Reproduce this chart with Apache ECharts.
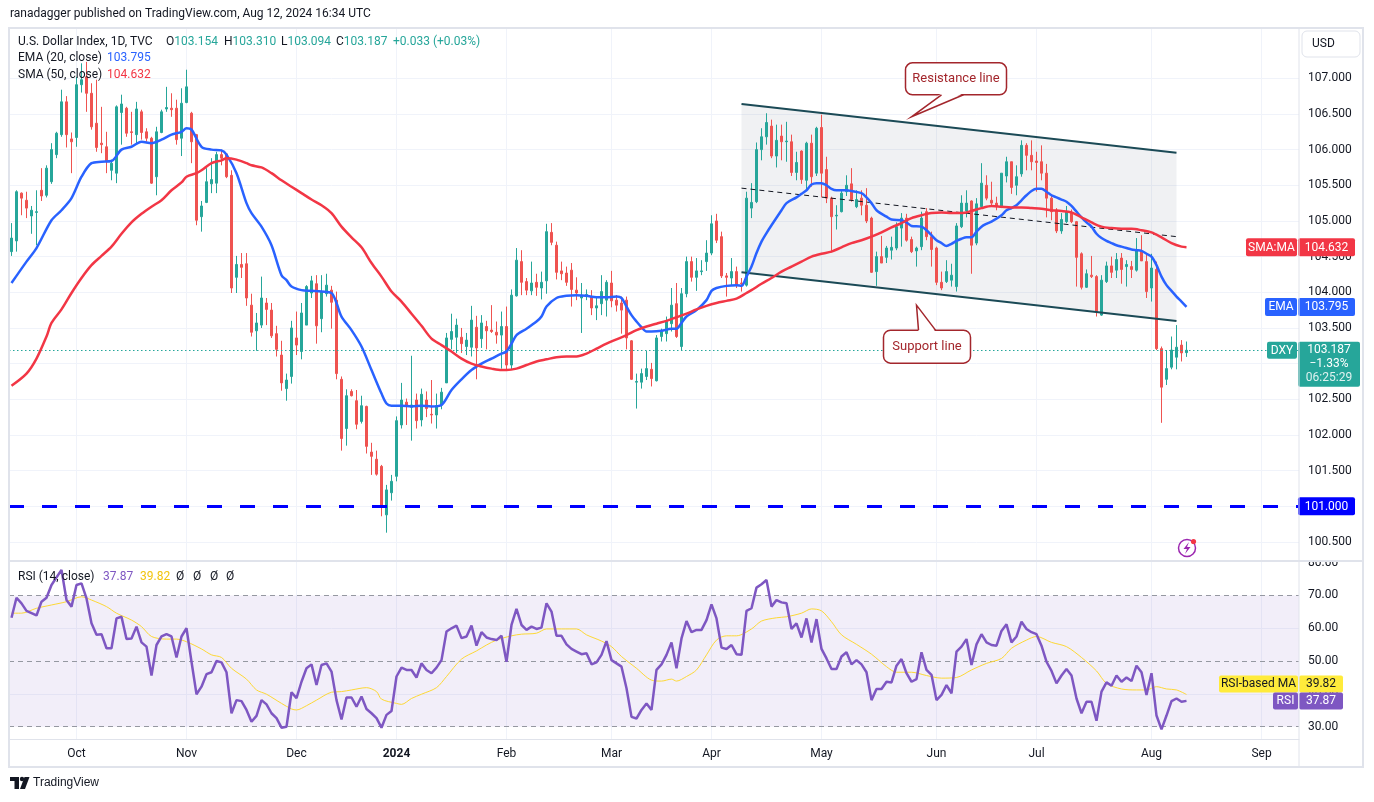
<!DOCTYPE html>
<html>
<head>
<meta charset="utf-8">
<title>U.S. Dollar Index 1D</title>
<script src="https://cdn.jsdelivr.net/npm/echarts@6/dist/echarts.min.js"></script>
<style>
  html, body { margin: 0; padding: 0; background: #fff; }
  #chart { width: 1374px; height: 802px; }
</style>
</head>
<body>
<div id="chart"></div>
<script>
"use strict";

var TEXT = '#131722';
var FONT = 'Roboto, "Noto Sans", "DejaVu Sans", sans-serif';
var UP = '#26a69a', DOWN = '#ef5350';
var EMA_COLOR = '#2962ff', SMA_COLOR = '#f23645';
var RSI_COLOR = '#7e57c2', RSI_MA_COLOR = '#fdd835';

/* calendar: daily bars, weekdays only */
var startDate = '2023-09-13';
var holidays = ['2023-12-25', '2024-01-01', '2024-03-29'];
var barSlots = 258;          // 236 traded days + empty future space
var monthNames = ['Jan','Feb','Mar','Apr','May','Jun','Jul','Aug','Sep','Oct','Nov','Dec'];

/* candles: [open, close, low, high] */
var ohlc = [
  [104.57,104.76,104.51,104.97],[104.72,105.41,104.57,105.43],[105.39,105.32,105.08,105.40],[105.29,105.18,105.04,105.41],
  [105.07,105.15,104.82,105.21],[105.12,105.13,104.66,105.43],[105.43,105.35,105.28,105.74],[105.36,105.74,105.33,105.78],
  [105.55,106.00,105.52,106.09],[105.93,106.23,105.88,106.25],[106.21,106.67,106.18,106.84],[106.67,106.21,106.03,106.75],
  [106.15,106.11,105.67,106.24],[106.17,106.91,106.04,107.02],[106.91,106.98,106.80,107.21],[107.02,106.79,106.53,107.23],
  [106.79,106.32,106.28,106.93],[106.37,106.03,105.97,106.98],[106.09,106.07,105.95,106.60],[106.04,105.83,105.67,106.25],
  [105.71,105.81,105.57,105.86],[105.67,106.60,105.53,106.62],[106.52,106.64,106.07,106.77],[106.58,106.23,106.18,106.60],
  [106.25,106.24,106.07,106.53],[106.21,106.57,106.07,106.67],[106.53,106.24,106.14,106.56],[106.25,106.16,106.11,106.30],
  [106.16,105.53,105.52,106.18],[105.62,106.25,105.36,106.32],[106.24,106.53,106.23,106.56],[106.57,106.59,106.53,106.88],
  [106.58,106.56,106.46,106.79],[106.58,106.14,106.07,106.70],[106.16,106.65,105.91,106.86],[106.66,106.88,106.65,107.12],
  [106.51,106.11,105.81,106.53],[106.21,105.01,104.94,106.22],[105.06,105.21,104.85,105.28],[105.26,105.55,105.25,105.74],
  [105.52,105.58,105.39,105.88],[105.53,105.93,105.39,105.97],[105.93,105.88,105.78,106.00],[105.94,105.62,105.60,105.95],
  [105.64,104.06,103.99,105.71],[104.21,104.39,103.99,104.51],[104.39,104.35,104.20,104.55],[104.40,103.92,103.81,104.55],
  [103.82,103.44,103.38,103.98],[103.46,103.57,103.18,103.71],[103.54,103.92,103.50,104.22],[103.85,103.76,103.54,103.92],
  [103.75,103.39,103.36,103.85],[103.42,103.20,103.10,103.53],[103.12,102.73,102.62,103.32],[102.65,102.77,102.48,102.86],
  [102.82,103.50,102.72,103.60],[103.36,103.26,103.12,103.73],[103.17,103.71,103.06,103.85],[103.54,104.08,103.54,104.10],
  [103.99,104.16,103.92,104.23],[104.12,103.53,103.28,104.24],[103.63,104.01,103.44,104.24],[103.98,104.10,103.94,104.26],
  [104.03,103.86,103.49,104.09],[103.89,102.86,102.78,104.01],[102.78,101.95,101.78,102.82],[102.09,102.55,101.85,102.64],
  [102.61,102.55,102.54,102.64],[102.48,102.15,102.08,102.63],[102.19,102.41,102.16,102.55],[102.40,101.84,101.74,102.41],
  [101.76,101.70,101.44,101.89],[101.66,101.45,101.43,101.78],[101.56,100.99,100.86,101.58],[100.88,101.23,100.63,101.30],
  [101.19,101.35,101.08,101.44],[101.42,102.20,101.35,102.26],[102.14,102.49,102.09,102.73],[102.46,102.41,102.14,102.51],
  [102.39,102.42,101.92,103.11],[102.49,102.20,102.09,102.58],[102.21,102.57,102.12,102.65],[102.49,102.37,102.25,102.61],
  [102.29,102.28,102.16,102.77],[102.28,102.41,102.09,102.58],[102.42,102.60,102.36,102.66],[102.73,103.36,102.73,103.43],
  [103.34,103.45,103.20,103.70],[103.37,103.54,103.15,103.63],[103.37,103.28,103.15,103.50],[103.24,103.33,103.12,103.43],
  [103.23,103.61,103.10,103.81],[103.51,103.22,102.78,103.67],[103.35,103.57,103.22,103.68],[103.52,103.46,103.20,103.60],
  [103.47,103.45,103.43,103.82],[103.44,103.40,103.28,103.59],[103.40,103.52,102.93,103.73],[103.52,102.98,102.91,103.80],
  [102.98,103.96,102.91,104.04],[103.95,104.45,103.94,104.62],[104.43,104.14,103.96,104.59],[104.15,104.03,103.96,104.20],
  [104.02,104.13,103.96,104.43],[104.14,104.07,103.95,104.26],[104.06,104.14,103.90,104.29],[104.16,104.85,103.98,104.96],
  [104.84,104.70,104.66,104.97],[104.66,104.28,104.18,104.71],[104.30,104.26,104.17,104.43],[104.27,104.14,104.09,104.36],
  [104.31,104.04,103.80,104.41],[104.03,103.99,103.89,104.21],[103.92,103.96,103.43,104.13],[103.94,103.97,103.89,104.04],
  [103.94,103.78,103.68,104.03],[103.78,103.81,103.61,103.94],[103.84,104.01,103.68,104.24],[103.89,104.14,103.66,104.17],
  [104.13,103.88,103.79,104.30],[103.89,103.82,103.73,103.96],[103.85,103.75,103.42,103.94],[103.89,103.36,103.20,103.94],
  [103.32,102.78,102.77,103.33],[102.74,102.75,102.37,102.86],[102.74,102.86,102.65,102.93],[102.82,102.93,102.77,103.18],
  [102.92,102.79,102.68,103.01],[102.76,103.36,102.75,103.40],[103.38,103.45,103.31,103.49],[103.42,103.59,103.31,103.66],
  [103.56,103.82,103.45,104.06],[103.84,103.38,103.36,104.13],[103.24,103.98,103.18,104.06],[103.98,104.43,103.93,104.50],
  [104.43,104.21,104.15,104.50],[104.21,104.30,104.02,104.48],[104.29,104.30,104.24,104.45],[104.43,104.55,104.30,104.73],
  [104.55,104.96,104.52,105.08],[105.00,104.73,104.69,105.10],[104.78,104.23,104.20,104.85],[104.23,104.21,103.94,104.27],
  [104.20,104.29,104.10,104.48],[104.29,104.10,104.06,104.36],[104.13,104.12,104.01,104.20],[104.10,105.32,104.08,105.41],
  [105.18,105.26,105.04,105.53],[105.27,106.00,105.25,106.10],[106.00,106.18,105.85,106.30],[106.18,106.38,106.07,106.51],
  [106.33,105.91,105.88,106.42],[105.91,106.13,105.75,106.35],[106.19,106.11,105.85,106.35],[106.11,106.12,105.83,106.39],
  [106.11,105.68,105.63,106.21],[105.68,105.82,105.57,105.97],[105.98,105.58,105.52,105.99],[105.57,106.09,105.43,106.11],
  [106.09,105.62,105.48,106.21],[105.67,106.30,105.63,106.32],[106.31,105.67,105.33,106.49],[105.72,105.32,105.25,105.90],
  [105.32,105.06,104.56,105.34],[105.07,105.08,104.88,105.22],[105.13,105.39,105.12,105.43],[105.41,105.50,105.35,105.64],
  [105.52,105.30,105.27,105.74],[105.20,105.30,105.18,105.43],[105.32,105.22,105.08,105.43],[105.22,105.00,104.97,105.46],
  [105.04,104.28,104.27,105.06],[104.29,104.50,104.09,104.57],[104.50,104.41,104.41,104.79],[104.49,104.62,104.41,104.65],
  [104.59,104.63,104.46,104.78],[104.62,104.92,104.59,104.98],[104.90,105.04,104.64,105.11],[105.04,104.73,104.71,105.10],
  [104.74,104.57,104.55,104.78],[104.58,104.62,104.36,104.64],[104.64,105.04,104.59,105.13],[105.13,104.78,104.73,105.18],
  [104.78,104.60,104.36,104.85],[104.62,104.14,104.10,104.64],[104.14,104.06,104.03,104.29],[104.15,104.29,104.13,104.45],
  [104.17,104.24,104.08,104.40],[104.08,104.93,104.01,104.97],[104.92,105.25,104.90,105.36],[105.14,105.25,105.05,105.43],
  [105.28,104.66,104.26,105.29],[104.69,105.24,104.66,105.32],[105.20,105.53,105.18,105.81],[105.50,105.32,105.29,105.64],
  [105.29,105.25,105.22,105.55],[105.25,105.21,105.15,105.34],[105.21,105.67,105.18,105.67],[105.63,105.83,105.54,105.90],
  [105.83,105.47,105.38,105.83],[105.50,105.62,105.36,105.78],[105.66,106.06,105.62,106.13],[106.06,105.92,105.71,106.09],
  [105.92,105.83,105.71,106.13],[105.84,105.82,105.41,105.97],[105.83,105.67,105.57,106.06],[105.67,105.32,105.05,105.80],
  [105.32,105.13,105.01,105.36],[105.15,104.86,104.83,105.18],[104.86,105.02,104.82,105.11],[104.99,105.13,104.97,105.21],
  [105.12,104.99,104.97,105.16],[104.99,104.49,104.08,105.00],[104.54,104.07,104.04,104.56],[104.07,104.26,104.06,104.32],
  [104.24,104.22,104.20,104.51],[104.22,103.73,103.66,104.24],[103.68,104.17,103.67,104.24],[104.15,104.37,104.13,104.43],
  [104.37,104.28,104.20,104.50],[104.31,104.46,104.20,104.55],[104.48,104.32,104.12,104.55],[104.36,104.39,104.08,104.45],
  [104.36,104.32,104.20,104.44],[104.31,104.59,104.29,104.76],[104.58,104.44,104.44,104.80],[104.43,104.01,103.92,104.54],
  [104.06,104.34,103.87,104.54],[104.32,103.21,103.19,104.43],[103.21,102.67,102.17,103.24],[102.78,102.93,102.70,103.19],
  [102.95,103.19,102.92,103.38],[103.09,103.23,102.92,103.54],[103.26,103.15,103.03,103.33],[103.154,103.187,103.094,103.310]
];

/* EMA(20): [bar index, value] */
var ema20 = [
  [0,104.13],[3,104.43],[5,104.62],[8,105.01],[10,105.15],[12,105.32],[14,105.62],[16,105.81],[18,105.83],[20,105.84],
  [22,106.00],[24,106.04],[26,106.11],[28,106.09],[30,106.14],[32,106.21],[34,106.25],[35,106.30],[36,106.28],[38,106.04],
  [40,106.00],[42,105.99],[43,105.93],[45,105.67],[47,105.25],[48,105.11],[50,104.92],[52,104.66],[54,104.24],[55,104.17],
  [56,104.08],[58,104.03],[60,104.02],[62,104.01],[64,103.99],[65,103.85],[66,103.66],[68,103.47],[70,103.24],[72,102.91],
  [74,102.58],[75,102.44],[76,102.41],[78,102.41],[80,102.40],[82,102.41],[84,102.40],[86,102.42],[88,102.63],[90,102.78],
  [92,102.91],[94,103.00],[96,103.07],[98,103.14],[99,103.17],[100,103.28],[101,103.40],[103,103.49],[105,103.59],[106,103.66],
  [107,103.80],[109,103.92],[111,103.95],[113,103.96],[115,103.95],[117,103.93],[119,103.93],[121,103.94],[122,103.92],[123,103.80],
  [124,103.68],[125,103.59],[126,103.51],[127,103.45],[128,103.45],[130,103.46],[132,103.49],[133,103.49],[134,103.57],[135,103.66],
  [137,103.75],[139,103.89],[140,104.02],[141,104.06],[143,104.09],[145,104.10],[146,104.09],[147,104.22],[148,104.36],[149,104.55],
  [150,104.71],[151,104.83],[152,104.94],[154,105.15],[155,105.25],[157,105.33],[158,105.38],[159,105.43],[160,105.51],[161,105.53],
  [162,105.53],[163,105.50],[164,105.45],[165,105.43],[167,105.43],[168,105.42],[170,105.39],[171,105.33],[172,105.25],[173,105.15],
  [175,105.06],[176,105.02],[178,105.01],[179,104.98],[180,104.93],[182,104.92],[183,104.87],[184,104.80],[185,104.73],[186,104.69],
  [187,104.65],[188,104.68],[189,104.72],[190,104.75],[191,104.77],[192,104.77],[193,104.85],[194,104.92],[195,104.96],[196,104.99],
  [198,105.08],[199,105.15],[200,105.18],[201,105.22],[202,105.29],[203,105.36],[204,105.42],[205,105.45],[206,105.45],[207,105.41],
  [208,105.36],[209,105.33],[210,105.30],[211,105.27],[212,105.21],[213,105.13],[214,105.05],[215,104.98],[216,104.92],[217,104.82],
  [218,104.76],[219,104.72],[220,104.69],[221,104.66],[222,104.64],[223,104.62],[224,104.60],[225,104.59],[226,104.58],[227,104.54],
  [228,104.50],[229,104.38],[230,104.22],[231,104.10],[232,104.02],[233,103.94],[234,103.87],[235,103.795]
];

/* SMA(50): [bar index, value] */
var sma50 = [
  [0,102.69],[3,102.86],[5,103.07],[7,103.38],[8,103.57],[10,103.76],[12,103.99],[14,104.20],[16,104.38],[18,104.51],
  [20,104.64],[22,104.82],[24,104.98],[26,105.10],[28,105.20],[30,105.29],[32,105.43],[34,105.54],[35,105.62],[37,105.67],
  [38,105.71],[40,105.81],[42,105.85],[43,105.88],[45,105.86],[47,105.81],[48,105.78],[50,105.75],[52,105.67],[54,105.57],
  [56,105.48],[58,105.39],[60,105.30],[62,105.22],[64,105.11],[66,104.92],[68,104.77],[70,104.63],[72,104.41],[74,104.22],
  [76,104.01],[78,103.87],[80,103.70],[82,103.53],[84,103.35],[86,103.26],[88,103.17],[90,103.07],[92,103.00],[94,102.96],
  [96,102.93],[98,102.91],[99,102.91],[101,102.93],[103,102.98],[105,103.03],[107,103.06],[109,103.09],[111,103.10],[113,103.10],
  [115,103.14],[117,103.21],[119,103.28],[121,103.34],[123,103.40],[125,103.47],[127,103.52],[129,103.56],[131,103.60],[133,103.65],
  [135,103.70],[137,103.76],[139,103.81],[141,103.85],[143,103.88],[145,103.91],[147,103.99],[148,104.03],[150,104.12],[152,104.20],
  [154,104.29],[156,104.36],[158,104.43],[160,104.50],[162,104.54],[164,104.57],[166,104.63],[168,104.69],[170,104.73],[172,104.78],
  [174,104.84],[176,104.91],[178,104.97],[180,105.04],[182,105.08],[184,105.11],[186,105.12],[188,105.11],[190,105.11],[192,105.14],
  [194,105.18],[196,105.21],[198,105.20],[200,105.19],[202,105.19],[204,105.18],[206,105.17],[208,105.15],[210,105.14],[212,105.12],
  [214,105.05],[216,104.98],[218,104.92],[220,104.90],[222,104.89],[224,104.89],[226,104.87],[228,104.84],[230,104.77],[232,104.69],
  [234,104.64],[235,104.632]
];

/* RSI(14): [bar index, value] */
var rsi14 = [
  [0,63.2],[1,69.3],[2,67.6],[3,65.3],[5,63.9],[6,68.1],[7,69.3],[8,73.2],[10,77.8],[11,68.6],[12,66.6],[13,73.2],[14,73.7],
  [15,69.1],[16,61.5],[17,58.0],[18,58.2],[19,53.9],[20,53.9],[21,63.0],[22,63.5],[23,56.7],[24,56.9],[25,60.5],[26,55.7],
  [27,54.4],[28,45.6],[29,54.9],[30,57.5],[31,58.2],[32,57.5],[33,51.1],[34,57.5],[35,60.0],[36,49.8],[37,39.9],[38,42.2],
  [39,46.0],[40,46.6],[41,50.0],[42,49.6],[43,46.6],[44,34.1],[45,38.1],[46,37.8],[47,35.1],[48,31.5],[49,33.3],[50,38.1],
  [51,36.8],[52,34.1],[53,32.6],[54,29.7],[55,30.0],[56,40.5],[57,38.7],[58,43.7],[59,47.8],[60,49.0],[61,42.7],[62,48.8],
  [63,49.3],[64,46.8],[65,38.1],[66,32.2],[67,38.9],[68,38.9],[69,36.1],[70,39.2],[71,35.4],[72,34.1],[73,32.6],[74,29.7],
  [75,33.6],[76,34.8],[77,45.3],[78,48.0],[79,47.3],[80,47.3],[81,45.0],[82,49.3],[83,47.3],[84,46.3],[85,48.0],[86,50.3],
  [87,59.0],[88,60.0],[89,60.8],[90,57.0],[91,57.5],[92,60.8],[93,54.7],[94,58.8],[95,57.2],[96,56.7],[97,56.4],[98,57.7],
  [99,49.8],[100,61.0],[101,65.9],[102,61.0],[103,59.5],[104,60.5],[105,59.8],[106,60.2],[107,67.6],[108,65.1],[109,57.7],
  [110,57.7],[111,55.1],[112,53.7],[113,52.9],[114,52.1],[115,52.4],[116,49.0],[117,49.6],[118,51.9],[119,56.1],[120,50.3],
  [122,48.3],[123,41.7],[124,33.0],[125,32.5],[126,35.1],[127,37.1],[128,35.1],[129,47.3],[130,49.0],[131,51.9],[132,55.7],
  [133,47.8],[134,56.9],[135,62.2],[136,58.8],[137,59.5],[138,59.5],[139,62.5],[140,67.3],[141,63.0],[142,54.1],[143,53.7],
  [144,54.9],[145,52.1],[146,51.9],[147,65.3],[148,66.1],[149,72.4],[150,73.4],[151,74.7],[152,66.6],[153,68.6],[154,67.9],
  [155,67.6],[156,59.8],[157,61.5],[158,57.2],[159,63.0],[160,55.7],[161,62.8],[162,53.7],[163,50.8],[164,47.6],[165,47.6],
  [166,51.4],[167,52.7],[168,49.0],[169,50.3],[170,49.0],[171,46.6],[172,38.1],[173,41.5],[174,41.5],[175,43.7],[176,43.5],
  [177,48.6],[178,50.6],[179,46.3],[180,43.7],[181,44.5],[182,52.7],[183,47.3],[184,45.8],[185,38.1],[186,39.7],[187,42.7],
  [188,40.2],[189,52.9],[190,54.4],[191,56.7],[192,48.8],[193,55.1],[194,58.2],[195,55.7],[196,54.9],[197,54.7],[198,59.2],
  [199,61.2],[200,55.7],[201,57.5],[202,62.0],[203,59.8],[204,58.8],[205,58.2],[206,54.7],[207,49.8],[208,47.0],[209,43.2],
  [210,45.6],[211,47.6],[212,45.6],[213,38.6],[214,34.1],[215,37.6],[216,37.6],[217,31.8],[218,40.7],[219,43.5],[220,42.5],
  [221,45.6],[222,43.7],[223,45.0],[224,43.9],[225,48.6],[226,46.6],[227,39.7],[228,46.3],[229,33.4],[230,29.2],[231,33.4],
  [232,37.8],[233,38.6],[234,37.6],[235,37.87]
];

/* RSI-based MA: [bar index, value] */
var rsiMa = [
  [0,64.6],[2,64.6],[5,66.1],[8,67.1],[11,68.1],[14,69.6],[16,68.6],[19,66.6],[21,64.6],[24,62.5],[26,60.5],[28,57.5],
  [31,56.7],[33,56.7],[35,55.9],[38,53.7],[40,51.9],[42,51.1],[44,47.8],[47,44.5],[49,41.2],[51,39.9],[54,37.1],[56,35.4],
  [57,35.1],[59,36.4],[61,38.1],[64,40.5],[66,40.7],[68,41.2],[71,41.9],[73,40.7],[74,38.4],[77,37.1],[78,36.8],[80,38.6],
  [82,39.9],[85,41.9],[87,45.3],[90,50.6],[93,53.1],[95,54.9],[97,56.4],[100,57.7],[102,58.2],[105,58.5],[107,59.8],[110,59.8],
  [113,59.8],[115,58.0],[118,56.1],[120,54.4],[122,51.4],[125,47.8],[128,44.2],[130,43.9],[132,44.5],[133,43.9],[135,45.3],
  [137,47.3],[139,51.9],[141,56.4],[143,57.7],[145,57.7],[148,59.8],[150,62.2],[153,63.2],[155,63.5],[158,64.6],[160,65.9],
  [162,65.3],[164,62.0],[166,58.0],[169,55.1],[172,52.1],[175,48.3],[177,46.6],[180,46.6],[183,45.6],[186,44.8],[189,45.0],
  [192,47.3],[195,49.3],[198,50.8],[200,53.9],[203,56.4],[205,57.5],[208,55.7],[211,54.4],[214,51.1],[217,47.0],[219,43.2],
  [222,41.5],[225,41.2],[227,41.2],[229,42.2],[231,41.5],[233,41.2],[235,39.82]
];

/* axis ticks */
var priceTicks = [100.5, 101, 101.5, 102, 102.5, 103, 103.5, 104, 104.5, 105, 105.5, 106, 106.5, 107];
var rsiLabelTicks = [30, 40, 50, 60, 70, 80];
var rsiGridTicks = [40, 60];
var rsiBands = [70, 50, 30];

/* drawings: [bar index, price] */
var supportLevel = 101;
var channelUpper = [[146, 106.64], [233, 105.955]];
var channelLower = [[146, 104.28], [233, 103.598]];
var channelMid = [[146, 105.46], [233, 104.78]];
var resistanceNote = { text: 'Resistance line', tip: [180, 106.46] };
var supportNote = { text: 'Support line', tip: [181, 103.82] };

/* header values */
var changeText = '+0.033 (+0.03%)';
var changePct = '\u22121.33%';
var countdown = '06:25:29';

/* ---------- build calendar ---------- */
function buildDates(start, count, skip) {
  var out = [];
  var d = new Date(start + 'T00:00:00Z');
  while (out.length < count) {
    var wd = d.getUTCDay();
    var iso = d.toISOString().slice(0, 10);
    if (wd !== 0 && wd !== 6 && skip.indexOf(iso) < 0) {
      out.push(iso);
    }
    d.setUTCDate(d.getUTCDate() + 1);
  }
  return out;
}

var dates = buildDates(startDate, barSlots, holidays);

function isMonthStart(i) {
  return i > 0 && dates[i].slice(5, 7) !== dates[i - 1].slice(5, 7);
}

function monthLabel(value) {
  var m = parseInt(value.slice(5, 7), 10) - 1;
  return m === 0 ? '{b|' + value.slice(0, 4) + '}' : monthNames[m];
}

function pairLine(a, b, style) {
  return [
    { coord: [dates[a[0]], a[1]], lineStyle: style },
    { coord: [dates[b[0]], b[1]], lineStyle: style }
  ];
}

var lastBar = ohlc[ohlc.length - 1];
var lastClose = lastBar[1];
var lastEma = ema20[ema20.length - 1][1];
var lastSma = sma50[sma50.length - 1][1];
var lastRsi = rsi14[rsi14.length - 1][1];
var lastRsiMa = rsiMa[rsiMa.length - 1][1];

var chartDom = document.getElementById('chart');
var chart = echarts.init(chartDom, null, { renderer: 'canvas' });

var channelLineStyle = { color: '#1b4a56', width: 2, type: 'solid' };

var option = {
  animation: false,
  backgroundColor: '#ffffff',
  textStyle: { fontFamily: FONT },
  grid: [
    { left: 9, width: 1290, top: 28, height: 532, outerBoundsMode: 'none' },
    { left: 9, width: 1290, top: 562, height: 177, outerBoundsMode: 'none' }
  ],
  xAxis: [
    {
      type: 'category', gridIndex: 0, data: dates, boundaryGap: true,
      axisLine: { show: false }, axisTick: { show: false }, axisLabel: { show: false },
      splitLine: {
        show: true, alignWithLabel: true,
        interval: function (i) { return isMonthStart(i); },
        lineStyle: { color: '#f0f3fa', width: 1 }
      }
    },
    {
      type: 'category', gridIndex: 1, data: dates, boundaryGap: true,
      axisLine: { show: true, lineStyle: { color: '#e0e3eb', width: 1 } },
      axisTick: { show: false },
      axisLabel: {
        interval: function (i) { return isMonthStart(i); },
        formatter: monthLabel,
        color: TEXT, fontSize: 12, fontFamily: FONT, margin: 9,
        rich: { b: { fontWeight: 'bold', fontSize: 12, color: TEXT, fontFamily: FONT } }
      },
      splitLine: {
        show: true, alignWithLabel: true,
        interval: function (i) { return isMonthStart(i); },
        lineStyle: { color: '#f0f3fa', width: 1 }
      }
    }
  ],
  yAxis: [
    {
      type: 'value', gridIndex: 0, position: 'right', min: 100.247, max: 107.705,
      axisLine: { show: false },
      axisTick: { show: false, customValues: priceTicks },
      axisLabel: {
        customValues: priceTicks, color: TEXT, fontSize: 12, fontFamily: FONT, margin: 9,
        formatter: function (v) { return v.toFixed(3); }
      },
      splitLine: { show: true, lineStyle: { color: '#f0f3fa', width: 1 } }
    },
    {
      type: 'value', gridIndex: 1, position: 'right', min: 26.25, max: 80.2,
      axisLine: { show: false },
      axisTick: { show: false, customValues: rsiGridTicks },
      axisLabel: {
        customValues: rsiLabelTicks, color: TEXT, fontSize: 12, fontFamily: FONT, margin: 9,
        formatter: function (v) { return v.toFixed(2); }
      },
      splitLine: { show: true, lineStyle: { color: '#f0f3fa', width: 1 } }
    }
  ],
  series: [
    {
      name: 'channel fill', type: 'custom', xAxisIndex: 0, yAxisIndex: 0, z: 1, silent: true,
      data: [[channelUpper[0][0], channelUpper[0][1]]],
      renderItem: function (params, api) {
        var pts = [
          api.coord([channelUpper[0][0], channelUpper[0][1]]),
          api.coord([channelUpper[1][0], channelUpper[1][1]]),
          api.coord([channelLower[1][0], channelLower[1][1]]),
          api.coord([channelLower[0][0], channelLower[0][1]])
        ];
        return { type: 'polygon', shape: { points: pts }, style: { fill: 'rgba(120,128,150,0.11)' } };
      }
    },
    {
      name: 'DXY', type: 'candlestick', xAxisIndex: 0, yAxisIndex: 0, z: 3,
      data: ohlc, barWidth: 3,
      itemStyle: {
        color: UP, color0: DOWN, borderColor: UP, borderColor0: DOWN,
        borderColorDoji: UP, borderWidth: 1
      },
      markLine: {
        silent: true, symbol: ['none', 'none'], z: 4,
        label: { show: false },
        data: [
          { yAxis: supportLevel, lineStyle: { color: '#0000ff', width: 3, type: [15, 18] } },
          { yAxis: lastClose, lineStyle: { color: UP, width: 1, type: [1.5, 2.5] } },
          pairLine(channelUpper[0], channelUpper[1], channelLineStyle),
          pairLine(channelLower[0], channelLower[1], channelLineStyle),
          pairLine(channelMid[0], channelMid[1], { color: '#131722', width: 1, type: [5, 4] })
        ]
      }
    },
    {
      name: 'EMA 20', type: 'line', xAxisIndex: 0, yAxisIndex: 0, z: 4,
      data: ema20, showSymbol: false, smooth: 0.3,
      lineStyle: { color: EMA_COLOR, width: 2.5 }
    },
    {
      name: 'SMA 50', type: 'line', xAxisIndex: 0, yAxisIndex: 0, z: 4,
      data: sma50, showSymbol: false, smooth: 0.3,
      lineStyle: { color: SMA_COLOR, width: 2.5 }
    },
    {
      name: 'RSI', type: 'line', xAxisIndex: 1, yAxisIndex: 1, z: 4,
      data: rsi14, showSymbol: false,
      lineStyle: { color: RSI_COLOR, width: 2.5 },
      markArea: {
        silent: true,
        itemStyle: { color: 'rgba(126,87,194,0.1)' },
        data: [[{ yAxis: rsiBands[0] }, { yAxis: rsiBands[2] }]]
      },
      markLine: {
        silent: true, symbol: ['none', 'none'], z: 2,
        label: { show: false },
        lineStyle: { color: '#9598a1', width: 1, type: [5, 4] },
        data: rsiBands.map(function (v) { return { yAxis: v }; })
      }
    },
    {
      name: 'RSI MA', type: 'line', xAxisIndex: 1, yAxisIndex: 1, z: 3,
      data: rsiMa, showSymbol: false, smooth: 0.3,
      lineStyle: { color: RSI_MA_COLOR, width: 1 }
    }
  ]
};

chart.setOption(option);

/* ---------- overlays: labels, notes, legend ---------- */
function yPrice(v) { return chart.convertToPixel({ yAxisIndex: 0 }, v); }
function yRsi(v) { return chart.convertToPixel({ yAxisIndex: 1 }, v); }
function xBar(i) { return chart.convertToPixel({ xAxisIndex: 0 }, dates[i]); }

var g = [];

function txt(x, y, text, fill, size, extra) {
  var st = { text: text, fill: fill, font: (size || 12) + 'px ' + FONT, align: 'left', verticalAlign: 'middle' };
  if (extra) { for (var k in extra) { st[k] = extra[k]; } }
  return { type: 'text', x: x, y: y, z: 60, silent: true, style: st };
}

function box(x, y, w, h, fill, r) {
  return { type: 'rect', z: 58, silent: true, shape: { x: x, y: y, width: w, height: h, r: r || 2 }, style: { fill: fill } };
}

function tag(x, yc, w, h, fill, text, color) {
  g.push(box(x, yc - h / 2, w, h, fill));
  g.push(txt(x + w / 2, yc + 0.5, text, color, 12, { align: 'center' }));
}

function callout(note, below, bx, by, bw, bh, base1, base2) {
  var tx = xBar(note.tip[0]);
  var ty = yPrice(note.tip[1]);
  var l = tx + bx, t = ty + by;
  var edge = below ? t : t + bh;
  var inner = below ? edge + 1.5 : edge - 1.5;
  var stroke = '#a3262c';
  g.push({ type: 'rect', z: 55, silent: true, shape: { x: l, y: t, width: bw, height: bh, r: 7 },
           style: { fill: '#ffffff', stroke: stroke, lineWidth: 1.5 } });
  g.push({ type: 'polygon', z: 56, silent: true,
           shape: { points: [[tx + base1, inner], [tx, ty], [tx + base2, inner]] },
           style: { fill: '#ffffff' } });
  g.push({ type: 'polyline', z: 57, silent: true,
           shape: { points: [[tx + base1, edge], [tx, ty], [tx + base2, edge]] },
           style: { stroke: stroke, lineWidth: 1.5, fill: null } });
  g.push(txt(l + bw / 2, t + bh / 2, note.text, stroke, 13, { align: 'center' }));
}

/* frame and pane separator */
g.push({ type: 'rect', z: 59, silent: true, shape: { x: 1300, y: 550, width: 62, height: 11 }, style: { fill: '#ffffff' } });
g.push({ type: 'line', z: 61, silent: true, shape: { x1: 9, y1: 561, x2: 1363, y2: 561 }, style: { stroke: '#e0e3eb', lineWidth: 2 } });
g.push({ type: 'line', z: 61, silent: true, shape: { x1: 1299, y1: 28, x2: 1299, y2: 767 }, style: { stroke: '#e0e3eb', lineWidth: 1 } });
g.push({ type: 'rect', z: 61, silent: true, shape: { x: 9, y: 28, width: 1354, height: 739 },
         style: { fill: null, stroke: '#e0e3eb', lineWidth: 2 } });

/* notes */
callout(resistanceNote, false, -6, -54, 101, 32, 30, 52);
callout(supportNote, true, -33, 25, 87, 33, 2, 19);

/* price scale tags */
var ySma = yPrice(lastSma), yEma = yPrice(lastEma), yLast = yPrice(lastClose), ySup = yPrice(supportLevel);
tag(1246, ySma, 51, 18, SMA_COLOR, 'SMA:MA', '#ffffff');
tag(1298, ySma, 57, 18, SMA_COLOR, lastSma.toFixed(3), '#ffffff');
tag(1265, yEma, 32, 18, EMA_COLOR, 'EMA', '#ffffff');
tag(1298, yEma, 57, 18, EMA_COLOR, lastEma.toFixed(3), '#ffffff');
tag(1267, yLast, 30, 17, UP, 'DXY', '#ffffff');
g.push(box(1298, yLast - 8.5, 62, 45, UP));
g.push(txt(1329, yLast, lastClose.toFixed(3), '#ffffff', 12, { align: 'center' }));
g.push(txt(1329, yLast + 14, changePct, '#ffffff', 12, { align: 'center' }));
g.push(txt(1329, yLast + 28, countdown, 'rgba(255,255,255,0.85)', 12, { align: 'center' }));
tag(1298, ySup, 57, 18, '#0000ff', supportLevel.toFixed(3), '#ffffff');

/* rsi scale tags */
var yR = yRsi(lastRsi);
var yM = Math.min(yRsi(lastRsiMa), yR - 17);
tag(1219, yM, 79, 17, '#ffeb3b', 'RSI-based MA', TEXT);
tag(1299, yM, 44, 17, '#ffeb3b', lastRsiMa.toFixed(2), TEXT);
tag(1273, yR, 25, 17, RSI_COLOR, 'RSI', '#ffffff');
tag(1299, yR, 44, 17, RSI_COLOR, lastRsi.toFixed(2), '#ffffff');

/* currency box */
g.push({ type: 'rect', z: 58, silent: true, shape: { x: 1302, y: 31, width: 58, height: 26, r: 5 },
         style: { fill: '#ffffff', stroke: '#e0e3eb', lineWidth: 1 } });
g.push(txt(1312, 44, 'USD', TEXT, 12));

/* alert icon */
g.push({ type: 'circle', z: 58, silent: true, shape: { cx: 1187, cy: 548, r: 8.5 },
         style: { fill: '#ffffff', stroke: '#9c27b0', lineWidth: 1.5 } });
g.push({ type: 'polygon', z: 59, silent: true,
         shape: { points: [[1189, 542], [1183.5, 549], [1187, 549], [1185, 554], [1190.5, 547], [1187, 547]] },
         style: { fill: '#9c27b0' } });
g.push({ type: 'circle', z: 60, silent: true, shape: { cx: 1193.5, cy: 541.5, r: 2.6 }, style: { fill: '#f23645' } });

/* header and legends */
g.push(txt(10, 14, 'ranadagger published on TradingView.com, Aug 12, 2024 16:34 UTC', TEXT, 12));
g.push(txt(18, 42, 'U.S. Dollar Index, 1D, TVC', TEXT, 12));
var ohlcKeys = ['O', 'H', 'L', 'C'];
var ohlcVals = [lastBar[0], lastBar[3], lastBar[2], lastBar[1]];
var ohlcX = [166, 224, 281, 336];
ohlcKeys.forEach(function (k, n) {
  g.push(txt(ohlcX[n], 42, '{k|' + k + '}{v|' + ohlcVals[n].toFixed(3) + '}', TEXT, 12, {
    rich: { k: { fill: TEXT, font: '12px ' + FONT }, v: { fill: UP, font: '12px ' + FONT } }
  }));
});
g.push(txt(393, 42, changeText, UP, 12));
g.push(txt(18, 58, 'EMA (20, close)', TEXT, 12));
g.push(txt(107, 58, lastEma.toFixed(3), EMA_COLOR, 12));
g.push(txt(18, 75, 'SMA (50, close)', TEXT, 12));
g.push(txt(107, 75, lastSma.toFixed(3), SMA_COLOR, 12));

g.push(txt(18, 577, 'RSI (14, close)', TEXT, 12));
g.push(txt(103, 577, lastRsi.toFixed(2), RSI_COLOR, 12));
g.push(txt(140, 577, lastRsiMa.toFixed(2), '#f2c40f', 12));
[176, 193, 210, 226].forEach(function (x) { g.push(txt(x, 577, '\u00d8', TEXT, 12)); });

/* footer logo */
g.push({ type: 'rect', z: 58, silent: true, shape: { x: 10, y: 777, width: 9, height: 4 }, style: { fill: TEXT } });
g.push({ type: 'rect', z: 58, silent: true, shape: { x: 14.5, y: 777, width: 4.5, height: 12 }, style: { fill: TEXT } });
g.push({ type: 'circle', z: 58, silent: true, shape: { cx: 22, cy: 779, r: 2.2 }, style: { fill: TEXT } });
g.push({ type: 'polygon', z: 58, silent: true, shape: { points: [[24.5, 777], [29.5, 777], [25, 789], [20, 789]] }, style: { fill: TEXT } });
g.push(txt(33, 783, 'TradingView', TEXT, 13, { fontWeight: 500 }));

chart.setOption({ graphic: g });

window.addEventListener('resize', function () {
  chart.resize();
});
</script>
</body>
</html>
